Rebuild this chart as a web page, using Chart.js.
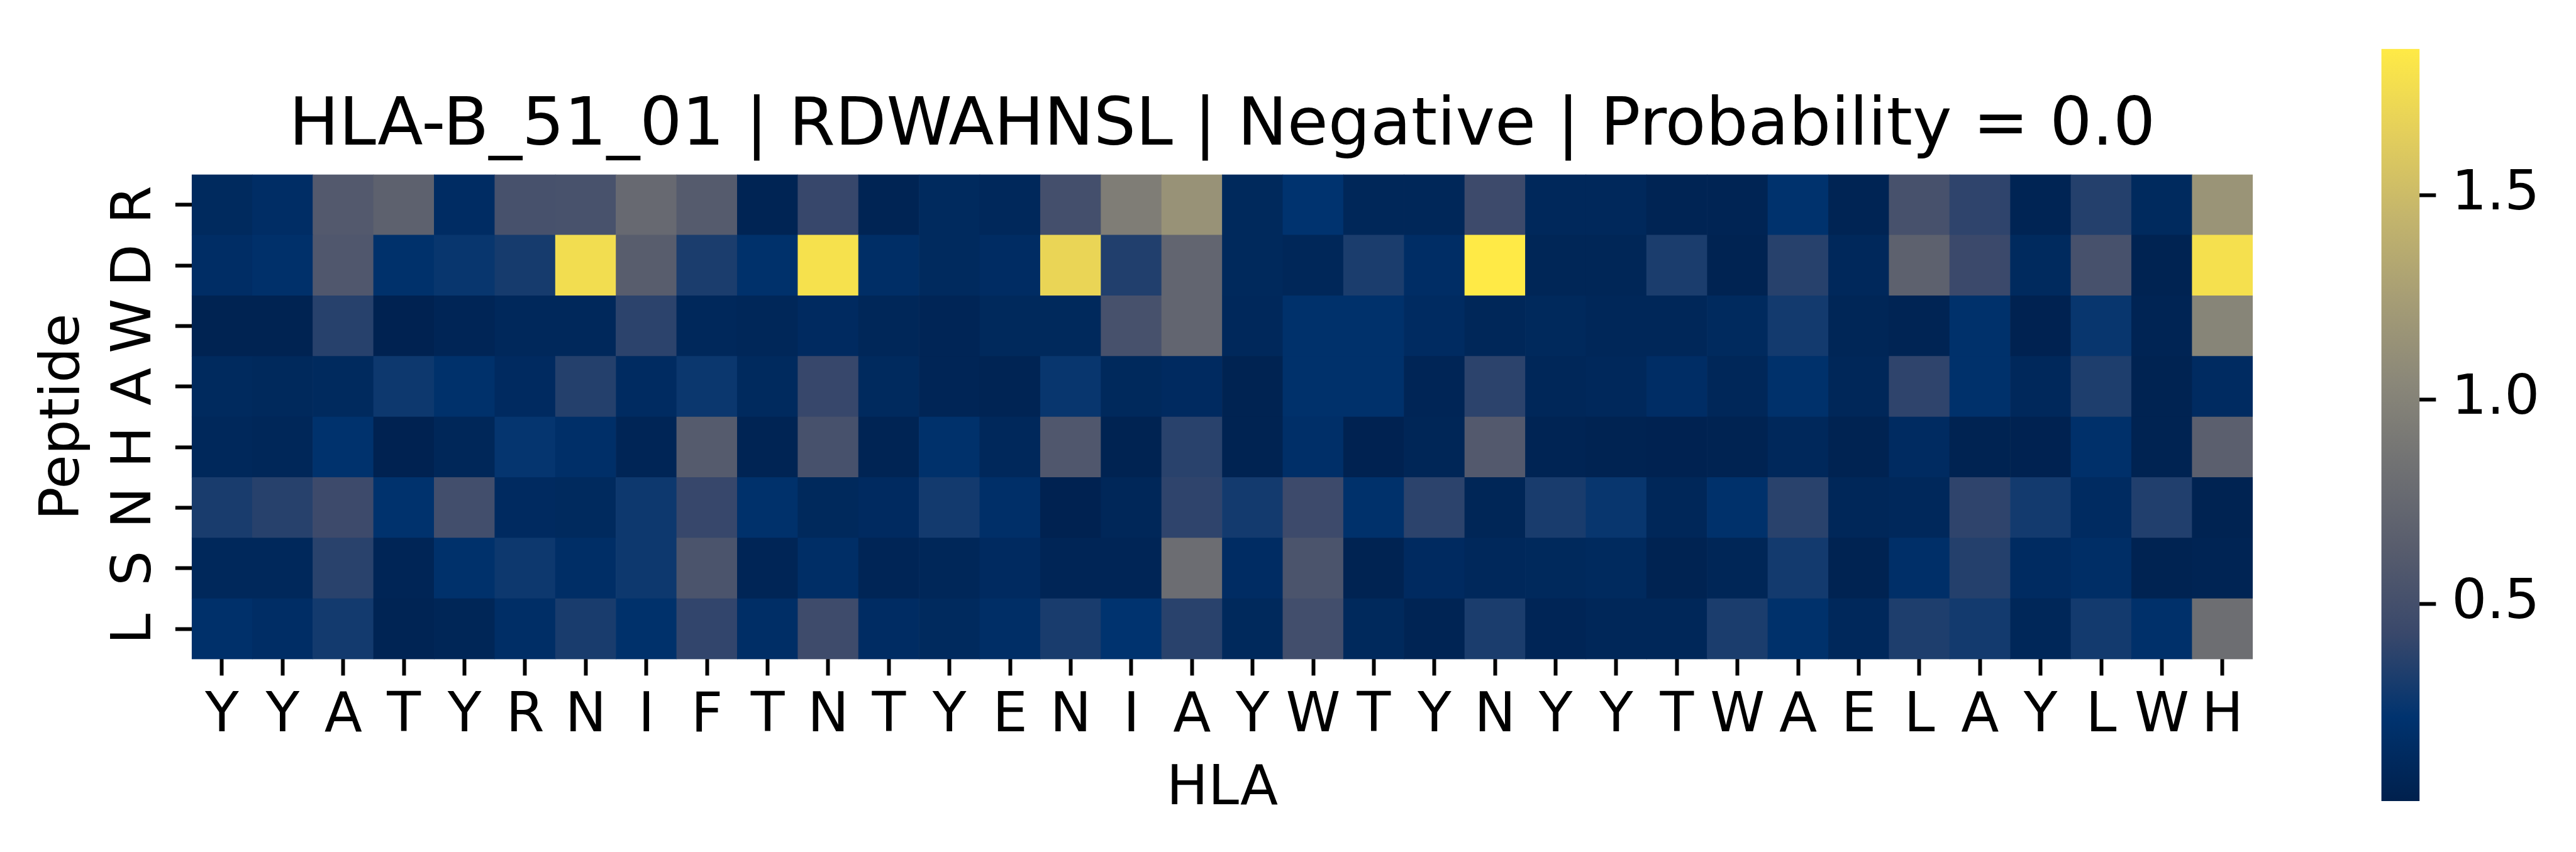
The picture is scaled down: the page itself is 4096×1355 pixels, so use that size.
<!DOCTYPE html>
<html>
<head>
<meta charset="utf-8">
<script src="https://cdn.jsdelivr.net/npm/chart.js@4.4.0/dist/chart.umd.min.js"></script>
<style>
  html, body { margin: 0; padding: 0; background: #ffffff; }
  #wrap { position: relative; width: 4096px; height: 1355px; }
  .box { position: absolute; top: 0; }
</style>
</head>
<body>
<div id="wrap">
  <div class="box" style="left:0;width:4096px;height:1355px"><canvas id="heat"></canvas></div>
  <div class="box" style="left:3700px;width:396px;height:1355px"><canvas id="cbar"></canvas></div>
</div>
<script>
// column labels (HLA pseudo sequence) and row labels (peptide)
const hlaLabels = ['Y', 'Y', 'A', 'T', 'Y', 'R', 'N', 'I', 'F', 'T', 'N', 'T', 'Y', 'E', 'N', 'I', 'A',
  'Y', 'W', 'T', 'Y', 'N', 'Y', 'Y', 'T', 'W', 'A', 'E', 'L', 'A', 'Y', 'L', 'W', 'H'];
const peptideLabels = ['R', 'D', 'W', 'A', 'H', 'N', 'S', 'L'];

// cell values, one array per peptide residue (top to bottom)
const rowR = [0.12, 0.16, 0.60, 0.68, 0.15, 0.52, 0.53, 0.76, 0.62, 0.06, 0.42, 0.06, 0.12, 0.10, 0.50, 0.95, 1.14,
  0.11, 0.22, 0.09, 0.09, 0.45, 0.10, 0.10, 0.06, 0.06, 0.21, 0.06, 0.52, 0.39, 0.06, 0.35, 0.12, 1.16];
const rowD = [0.16, 0.19, 0.58, 0.20, 0.25, 0.30, 1.76, 0.64, 0.32, 0.20, 1.79, 0.17, 0.12, 0.15, 1.70, 0.34, 0.72,
  0.11, 0.09, 0.32, 0.16, 1.86, 0.08, 0.08, 0.32, 0.05, 0.36, 0.10, 0.68, 0.44, 0.12, 0.52, 0.05, 1.78];
const rowW = [0.05, 0.05, 0.36, 0.04, 0.07, 0.10, 0.10, 0.38, 0.10, 0.09, 0.13, 0.09, 0.07, 0.11, 0.11, 0.52, 0.72,
  0.10, 0.20, 0.20, 0.14, 0.09, 0.11, 0.09, 0.09, 0.12, 0.29, 0.08, 0.06, 0.20, 0.04, 0.25, 0.06, 1.02];
const rowA = [0.12, 0.11, 0.12, 0.27, 0.20, 0.13, 0.35, 0.14, 0.26, 0.12, 0.42, 0.12, 0.07, 0.06, 0.25, 0.11, 0.13,
  0.05, 0.20, 0.20, 0.07, 0.38, 0.09, 0.10, 0.16, 0.09, 0.20, 0.09, 0.39, 0.20, 0.10, 0.33, 0.05, 0.14];
const rowH = [0.10, 0.09, 0.21, 0.04, 0.09, 0.24, 0.18, 0.07, 0.62, 0.06, 0.52, 0.06, 0.20, 0.10, 0.58, 0.05, 0.37,
  0.05, 0.18, 0.04, 0.08, 0.60, 0.06, 0.05, 0.04, 0.05, 0.10, 0.05, 0.14, 0.05, 0.04, 0.19, 0.05, 0.66];
const rowN = [0.31, 0.36, 0.45, 0.21, 0.49, 0.13, 0.12, 0.27, 0.42, 0.20, 0.11, 0.13, 0.29, 0.18, 0.04, 0.09, 0.39,
  0.29, 0.45, 0.20, 0.38, 0.08, 0.31, 0.25, 0.09, 0.20, 0.37, 0.09, 0.10, 0.39, 0.29, 0.14, 0.34, 0.05];
const rowS = [0.10, 0.10, 0.37, 0.07, 0.20, 0.27, 0.17, 0.27, 0.55, 0.07, 0.17, 0.07, 0.09, 0.13, 0.07, 0.07, 0.80,
  0.15, 0.55, 0.05, 0.13, 0.10, 0.11, 0.12, 0.05, 0.08, 0.29, 0.05, 0.18, 0.35, 0.14, 0.17, 0.05, 0.06];
const rowL = [0.19, 0.16, 0.29, 0.06, 0.08, 0.17, 0.31, 0.20, 0.40, 0.17, 0.46, 0.15, 0.12, 0.17, 0.31, 0.22, 0.37,
  0.11, 0.49, 0.11, 0.06, 0.32, 0.07, 0.09, 0.09, 0.32, 0.20, 0.10, 0.33, 0.29, 0.09, 0.29, 0.19, 0.81];
const rows = [rowR, rowD, rowW, rowA, rowH, rowN, rowS, rowL];

// colour scale range and colorbar ticks
const vmin = 0.017;
const vmax = 1.858;
const colorbarTicks = [0.5, 1.0, 1.5];

const titleText = 'HLA-B_51_01 | RDWAHNSL | Negative | Probability = 0.0';

Chart.defaults.font.family = "'DejaVu Sans', sans-serif";
Chart.defaults.color = '#000000';

// cividis
const cividisStops = ['#00204D', '#00336F', '#39486B', '#575C6D', '#707173',
  '#8A8779', '#A69D75', '#C4B56C', '#E4CF5B', '#FFEA46'];
function hexToRgb(h) {
  return [parseInt(h.slice(1, 3), 16), parseInt(h.slice(3, 5), 16), parseInt(h.slice(5, 7), 16)];
}
function cividis(v) {
  let t = (v - vmin) / (vmax - vmin);
  t = Math.max(0, Math.min(1, t));
  const pos = t * (cividisStops.length - 1);
  const i = Math.min(Math.floor(pos), cividisStops.length - 2);
  const f = pos - i;
  const a = hexToRgb(cividisStops[i]);
  const b = hexToRgb(cividisStops[i + 1]);
  const c = a.map((x, k) => Math.round(x + (b[k] - x) * f));
  return `rgb(${c[0]}, ${c[1]}, ${c[2]})`;
}

// stacked bars: bottom row first
const datasets = rows.slice().reverse().map((row, i) => ({
  label: peptideLabels[peptideLabels.length - 1 - i],
  data: row.map(() => 1),
  backgroundColor: row.map(cividis),
  borderWidth: 0,
  barPercentage: 1,
  categoryPercentage: 1,
}));

const tickGrid = {
  drawOnChartArea: false,
  drawTicks: true,
  offset: false,
  tickLength: 26,
  tickWidth: 6,
  tickColor: '#000000',
};

new Chart(document.getElementById('heat'), {
  type: 'bar',
  data: { labels: hlaLabels, datasets },
  options: {
    responsive: true,
    maintainAspectRatio: false,
    animation: false,
    layout: { padding: { left: 0, right: 513.9, top: 0, bottom: 0 } },
    plugins: {
      legend: { display: false },
      tooltip: { enabled: false },
      title: {
        display: true,
        text: titleText,
        fullSize: false,
        color: '#000000',
        font: { size: 105.7, weight: 'normal' },
        padding: { top: 138.7, bottom: 12 },
      },
    },
    scales: {
      x: {
        stacked: true,
        offset: true,
        grid: tickGrid,
        border: { display: false },
        ticks: { font: { size: 88 }, color: '#000000', padding: 13.4, minRotation: 0, maxRotation: 0, autoSkip: false },
        title: { display: true, text: 'HLA', color: '#000000', font: { size: 88 }, padding: { top: 0, bottom: 46.4 } },
        afterFit: (s) => { s.height = 306.6; },
      },
      y: {
        stacked: true,
        min: 0,
        max: 8,
        afterBuildTicks: (s) => { s.ticks = peptideLabels.map((_, i) => ({ value: i + 0.5 })); },
        grid: tickGrid,
        border: { display: false },
        ticks: {
          callback: (v, i) => peptideLabels[peptideLabels.length - 1 - i],
          font: { size: 88 },
          color: '#000000',
          padding: 19,
          minRotation: 90,
          maxRotation: 90,
          crossAlign: 'center',
          autoSkip: false,
        },
        title: { display: true, text: 'Peptide', color: '#000000', font: { size: 88 }, padding: { top: 49.4, bottom: 0 } },
        afterFit: (s) => { s.width = 304.8; },
      },
    },
  },
});

// colorbar
new Chart(document.getElementById('cbar'), {
  type: 'bar',
  data: {
    labels: [''],
    datasets: [{
      data: [[vmin, vmax]],
      backgroundColor: (ctx) => {
        const area = ctx.chart.chartArea;
        if (!area) return cividisStops[0];
        const g = ctx.chart.ctx.createLinearGradient(0, area.bottom, 0, area.top);
        cividisStops.forEach((c, i) => g.addColorStop(i / (cividisStops.length - 1), c));
        return g;
      },
      borderWidth: 0,
      barPercentage: 1,
      categoryPercentage: 1,
    }],
  },
  options: {
    responsive: true,
    maintainAspectRatio: false,
    animation: false,
    layout: { padding: { left: 86.5, right: 0, top: 52.9, bottom: 81.1 } },
    plugins: { legend: { display: false }, tooltip: { enabled: false } },
    scales: {
      x: { display: false },
      y: {
        position: 'right',
        min: vmin,
        max: vmax,
        afterBuildTicks: (s) => { s.ticks = colorbarTicks.map((v) => ({ value: v })); },
        grid: tickGrid,
        border: { display: false },
        ticks: { callback: (v) => v.toFixed(1), font: { size: 88 }, color: '#000000', padding: 25 },
        afterFit: (s) => { s.width = 248.7; },
      },
    },
  },
});
</script>
</body>
</html>
